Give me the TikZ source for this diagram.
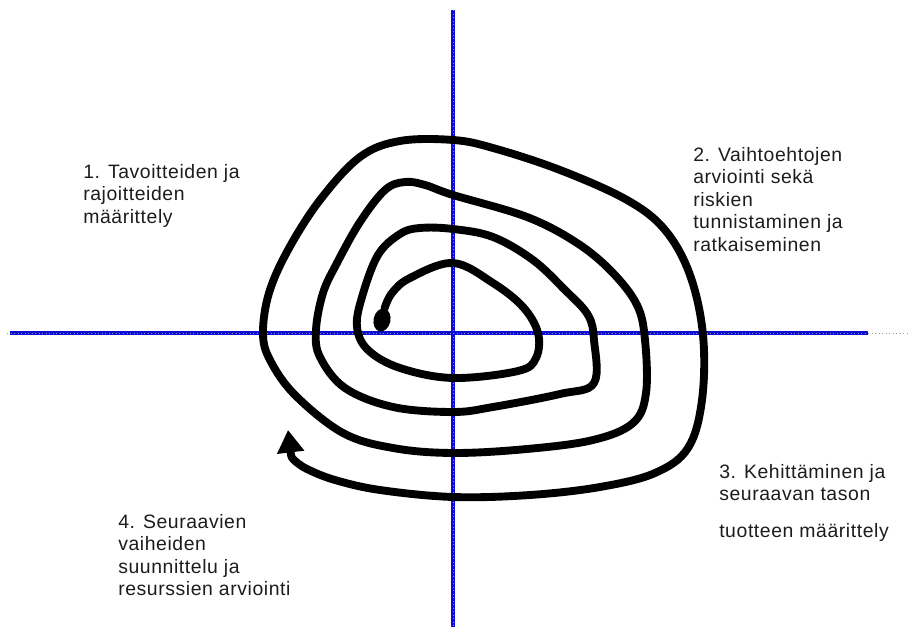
\documentclass[tikz,border=0pt]{standalone}
\usepackage{fontspec}
\setmainfont{Liberation Sans}
\newfontfamily\phasefont[LetterSpace=3]{Liberation Sans}
\usetikzlibrary{shapes.geometric, arrows.meta}
\definecolor{axisblue}{RGB}{12, 12, 210}
\definecolor{axisgray}{RGB}{150, 150, 150}
\definecolor{textgray}{RGB}{28, 28, 28}

\begin{document}
\begin{tikzpicture}[
    x=0.025cm, y=-0.025cm,
    phase/.style={anchor=north west, inner sep=0pt, align=left, text=textgray, font=\phasefont\fontsize{13.8}{16}\selectfont},
    axis/.style={axisblue, line width=2.4pt},
    guide/.style={axisgray, line width=0.5pt, dotted},
    spiral/.style={line width=5.6pt, line cap=round, line join=round},
    startdot/.style={ellipse, fill=black, inner sep=0pt, minimum width=12pt, minimum height=16.5pt, rotate=-12}
]
    \useasboundingbox (0,0) rectangle (908,628);

    \coordinate (vtop) at (453,10);
    \coordinate (vbottom) at (453,627);
    \coordinate (hleft) at (10,333);
    \coordinate (hright) at (868,333);
    \coordinate (hdots) at (907,333);
    \coordinate (hdotl) at (7,333);

    \draw [axis] (vtop) -- (vbottom);
    \draw [axis] (hleft) -- (hright);
    \draw [guide] (vtop) -- (vbottom);
    \draw [guide] (hdotl) -- (hdots);

    \node (start) [startdot] at (382,320) {};
    \coordinate (tip) at (288,430);

    \draw [spiral, -{Triangle[length=16pt, width=18.5pt]}] plot [smooth, tension=0.6] coordinates {
        (start.north) (392,293) (410,278) (453,263) (493,283) (523,307) (538,333) (536,358) (518,371)
        (453,378) (400,368) (368,350) (357,327) (362,297) (378,255) (400,234) (420,228) (453,229)
        (493,237) (533,260) (565,290) (588,315) (594,340) (594,383) (560,394) (493,407) (453,412)
        (393,407) (345,388) (320,357) (316,330) (323,293) (337,263) (360,222) (385,190) (405,182)
        (425,185) (453,195) (527,217) (577,243) (612,272) (637,305) (645,340) (646,393) (633,423)
        (593,440) (527,449) (453,453) (393,448) (343,433) (295,395) (270,360) (263,333) (269,293)
        (288,250) (320,200) (360,157) (400,141) (453,140) (493,148) (560,170) (627,200) (665,230)
        (690,275) (703,335) (702,400) (688,448) (655,473) (600,487) (530,495) (453,497) (380,490)
        (335,480) (307,469) (294,460) (291,455)} -- (tip);

    \node (goals) [phase] at (83,164) {1. Tavoitteiden ja\\rajoitteiden\\määrittely};
    \node (risks) [phase] at (693,147) {2. Vaihtoehtojen\\arviointi sekä\\riskien\\tunnistaminen ja\\ratkaiseminen};
    \node (develop) [phase] at (719,464) {3. Kehittäminen ja\\seuraavan tason\\[10pt]tuotteen määrittely};
    \node (plan) [phase] at (118,514) {4. Seuraavien\\vaiheiden\\suunnittelu ja\\resurssien arviointi};
\end{tikzpicture}
\end{document}
